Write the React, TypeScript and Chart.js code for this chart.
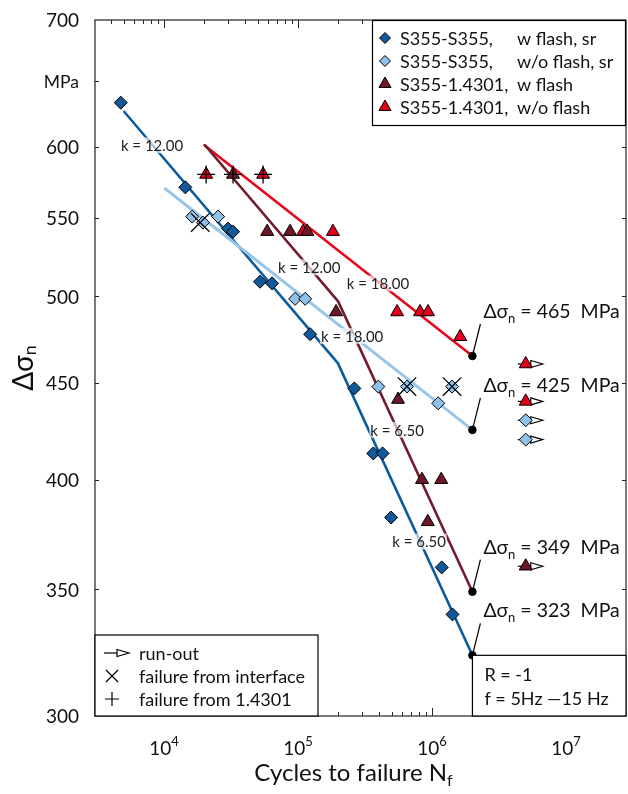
import React, { useEffect, useRef } from 'react';
import { Chart, registerables } from 'chart.js';
Chart.register(...registerables);

const FONT = 'Lato, "DejaVu Sans", sans-serif';

// axes
const xMin = 3050;
const xMax = 28000000;
const yMin = 300;
const yMax = 700;
const yTickValues = [300, 350, 400, 450, 500, 550, 600, 650, 700];
const yTickLabels = ['300', '350', '400', '450', '500', '550', '600', 'MPa', '700'];
const xTickValues = [1e4, 1e5, 1e6, 1e7];
const xTickExponents = ['4', '5', '6', '7'];

// S355-S355, w flash, sr (dark blue diamonds)
const wFlashSrN = [4750, 14400, 30000, 32700, 52000, 63900, 123000, 263000, 364000, 427000, 494000, 1180000, 1420000];
const wFlashSrS = [633, 571, 543, 541, 509, 508, 477.5, 447, 413, 413, 382, 359.5, 339.5];
// S355-S355, w/o flash, sr (light blue diamonds)
const woFlashSrN = [16200, 19500, 25300, 95000, 113000, 397000, 650000, 1410000, 1110000];
const woFlashSrS = [551, 547, 551, 498.5, 498.5, 448, 448, 448, 439];
// S355-1.4301, w flash (dark red triangles)
const wFlashN = [32700, 58800, 87100, 117000, 192000, 557000, 841000, 1170000, 929000];
const wFlashS = [580, 541, 541, 541, 490.6, 441, 400, 400, 380];
// S355-1.4301, w/o flash (red triangles)
const woFlashN = [20600, 54800, 109000, 182000, 548000, 813000, 933000, 1620000];
const woFlashS = [580, 580, 541, 541, 490.6, 490.6, 490.6, 476];

// run-outs
const runoutWoFlashN = [5e6, 5e6];
const runoutWoFlashS = [460.5, 440];
const runoutWoFlashSrN = [5e6, 5e6];
const runoutWoFlashSrS = [430, 420];
const runoutWFlashN = [5e6];
const runoutWFlashS = [360];

// failure modes
const plusN = [20600, 32700, 54800];
const plusS = [580, 580, 580];
const interfaceN = [18600, 650000, 1410000];
const interfaceS = [547, 448, 448];

// S-N curves
const curveWFlashSrN = [5040, 198000, 2000000];
const curveWFlashSrS = [626, 461, 323];
const curveWoFlashSrN = [10200, 2000000];
const curveWoFlashSrS = [570, 425];
const curveWFlashN = [20200, 199000, 2000000];
const curveWFlashS = [601, 497, 349];
const curveWoFlashN = [20000, 2000000];
const curveWoFlashS = [601, 465];

// endpoints (2e6 cycles)
const endN = [2000000, 2000000, 2000000, 2000000];
const endS = [465, 425, 349, 323];
const endLabels = ['465', '425', '349', '323'];

// slope labels
const kLabelText = ['k = 12.00', 'k = 12.00', 'k = 18.00', 'k = 18.00', 'k = 6.50', 'k = 6.50'];
const kLabelN = [8130, 121000, 395000, 253000, 548000, 800000];
const kLabelS = [601, 518, 508, 476.5, 425, 371];

// legend
const legendSeries = ['S355-S355,', 'S355-S355,', 'S355-1.4301,', 'S355-1.4301,'];
const legendDetails = ['w flash, sr', 'w/o flash, sr', 'w flash', 'w/o flash'];
const legendSymbols = ['run-out', 'failure from interface', 'failure from 1.4301'];
const infoLines = ['R = -1', 'f = 5Hz \u201415 Hz'];

const C_DB = '#11599a';
const C_LB = '#8fc1e9';
const C_DR = '#6d1828';
const C_R = '#e3001b';
const L_DB = '#0b5c9e';
const L_LB = '#98c6ea';
const L_DR = '#731c2d';
const L_R = '#e4071c';

type Run = [string, number, number];

function measureRuns(ctx: CanvasRenderingContext2D, runs: Run[]) {
  let w = 0;
  for (const [t, s] of runs) {
    ctx.font = `${s}px ${FONT}`;
    w += ctx.measureText(t).width;
  }
  return w;
}
function drawRuns(ctx: CanvasRenderingContext2D, runs: Run[], x: number, y: number) {
  let cx = x;
  for (const [t, s, dy] of runs) {
    ctx.font = `${s}px ${FONT}`;
    ctx.fillText(t, cx, y + dy);
    cx += ctx.measureText(t).width;
  }
}
function markerPath(ctx: CanvasRenderingContext2D, style: string, x: number, y: number, r: number) {
  ctx.beginPath();
  if (style === 'diamond') {
    ctx.moveTo(x, y - r);
    ctx.lineTo(x + r, y);
    ctx.lineTo(x, y + r);
    ctx.lineTo(x - r, y);
  } else {
    ctx.moveTo(x, y - r);
    ctx.lineTo(x + r * 0.866, y + r * 0.5);
    ctx.lineTo(x - r * 0.866, y + r * 0.5);
  }
  ctx.closePath();
}

const framePlugin = {
  id: 'frameTicks',
  beforeDatasetsDraw(chart: any) {
    const { ctx, chartArea: a } = chart;
    const xs = chart.scales.x;
    const ys = chart.scales.y;
    ctx.save();
    ctx.strokeStyle = '#222';
    ctx.lineWidth = 1.2;
    ctx.strokeRect(a.left, a.top, a.right - a.left, a.bottom - a.top);
    ctx.lineWidth = 1;
    ctx.beginPath();
    for (let d = 3; d <= 7; d++) {
      for (let m = 1; m <= 9; m++) {
        const v = m * Math.pow(10, d);
        if (v <= xMin || v >= xMax) continue;
        const px = Math.round(xs.getPixelForValue(v)) + 0.5;
        const len = m === 1 ? 8 : 4;
        ctx.moveTo(px, a.bottom);
        ctx.lineTo(px, a.bottom - len);
        ctx.moveTo(px, a.top);
        ctx.lineTo(px, a.top + len);
      }
    }
    for (const v of yTickValues) {
      if (v <= yMin || v >= yMax) continue;
      const py = Math.round(ys.getPixelForValue(v)) + 0.5;
      ctx.moveTo(a.left, py);
      ctx.lineTo(a.left + 4, py);
      ctx.moveTo(a.right, py);
      ctx.lineTo(a.right - 4, py);
    }
    ctx.stroke();

    // y tick labels
    ctx.fillStyle = '#111';
    ctx.textAlign = 'right';
    ctx.textBaseline = 'middle';
    yTickValues.forEach((v, i) => {
      const py = ys.getPixelForValue(v);
      ctx.font = `${yTickLabels[i] === 'MPa' ? 17.5 : 19}px ${FONT}`;
      ctx.fillText(yTickLabels[i], a.left - 16, py + 1);
    });
    ctx.textAlign = 'left';

    // run-out arrows
    const arrows = (N: number[], S: number[]) => {
      N.forEach((n, i) => {
        const px = xs.getPixelForValue(n);
        const py = ys.getPixelForValue(S[i]);
        ctx.beginPath();
        ctx.moveTo(px - 8, py);
        ctx.lineTo(px + 5, py);
        ctx.strokeStyle = '#000';
        ctx.lineWidth = 1.2;
        ctx.stroke();
        ctx.beginPath();
        ctx.moveTo(px + 5, py - 3.5);
        ctx.lineTo(px + 17, py);
        ctx.lineTo(px + 5, py + 3.5);
        ctx.closePath();
        ctx.fillStyle = '#fff';
        ctx.fill();
        ctx.stroke();
      });
    };
    arrows(runoutWoFlashN, runoutWoFlashS);
    arrows(runoutWoFlashSrN, runoutWoFlashSrS);
    arrows(runoutWFlashN, runoutWFlashS);
    ctx.restore();
  },
};

const overlayPlugin = {
  id: 'overlay',
  afterDatasetsDraw(chart: any) {
    const { ctx, chartArea: a } = chart;
    const xs = chart.scales.x;
    const ys = chart.scales.y;
    ctx.save();
    ctx.textBaseline = 'alphabetic';
    ctx.fillStyle = '#111';

    // k labels
    kLabelText.forEach((t, i) => {
      const px = xs.getPixelForValue(kLabelN[i]);
      const py = ys.getPixelForValue(kLabelS[i]);
      ctx.font = `15px ${FONT}`;
      const w = ctx.measureText(t).width;
      ctx.fillStyle = 'rgba(255,255,255,0.65)';
      ctx.fillRect(px - w / 2 - 1, py - 8, w + 2, 16);
      ctx.fillStyle = '#222';
      ctx.textAlign = 'center';
      ctx.textBaseline = 'middle';
      ctx.fillText(t, px, py + 1);
    });
    ctx.textAlign = 'left';
    ctx.textBaseline = 'alphabetic';

    // endpoint annotations
    endN.forEach((n, i) => {
      const px = xs.getPixelForValue(n);
      const py = ys.getPixelForValue(endS[i]);
      ctx.strokeStyle = '#000';
      ctx.lineWidth = 1.2;
      ctx.beginPath();
      ctx.moveTo(px, py);
      ctx.lineTo(px + 8, py - 32);
      ctx.stroke();
      ctx.fillStyle = '#111';
      drawRuns(ctx, [['\u0394\u03c3', 19.5, 0], ['n', 13, 5], [' = ' + endLabels[i] + '  MPa', 19.5, 0]], px + 11, py - 38);
    });

    // top-right legend
    const lx = 372;
    const ly = a.top;
    const lw = a.right - lx;
    const lh = 106;
    ctx.fillStyle = '#fff';
    ctx.fillRect(lx, ly, lw, lh);
    ctx.strokeStyle = '#000';
    ctx.lineWidth = 1.2;
    ctx.strokeRect(lx + 0.5, ly + 0.5, lw - 1, lh - 1);
    const styles = ['diamond', 'diamond', 'triangle', 'triangle'];
    const fills = [C_DB, C_LB, C_DR, C_R];
    legendSeries.forEach((t, i) => {
      const y = ly + 18 + i * 23;
      markerPath(ctx, styles[i], lx + 13, y, styles[i] === 'diamond' ? 5.5 : 7);
      ctx.fillStyle = fills[i];
      ctx.fill();
      ctx.lineWidth = 1;
      ctx.strokeStyle = '#000';
      ctx.stroke();
      ctx.fillStyle = '#111';
      ctx.font = `18px ${FONT}`;
      ctx.textBaseline = 'middle';
      ctx.fillText(t, lx + 28, y + 1);
      ctx.fillText(legendDetails[i], lx + 145, y + 1);
    });

    // bottom-left legend
    const bx = a.left;
    const by = 635;
    const bw = 318 - a.left;
    const bh = a.bottom - by;
    ctx.fillStyle = '#fff';
    ctx.fillRect(bx, by, bw, bh);
    ctx.strokeStyle = '#000';
    ctx.lineWidth = 1.2;
    ctx.strokeRect(bx, by, bw, bh);
    legendSymbols.forEach((t, i) => {
      const y = by + 18 + i * 23;
      const sx = bx + 17;
      ctx.strokeStyle = '#000';
      ctx.lineWidth = 1.2;
      if (i === 0) {
        ctx.beginPath();
        ctx.moveTo(sx - 8, y);
        ctx.lineTo(sx + 5, y);
        ctx.stroke();
        ctx.beginPath();
        ctx.moveTo(sx + 5, y - 3.5);
        ctx.lineTo(sx + 17, y);
        ctx.lineTo(sx + 5, y + 3.5);
        ctx.closePath();
        ctx.fillStyle = '#fff';
        ctx.fill();
        ctx.stroke();
      } else if (i === 1) {
        ctx.beginPath();
        ctx.moveTo(sx - 6, y - 6);
        ctx.lineTo(sx + 6, y + 6);
        ctx.moveTo(sx + 6, y - 6);
        ctx.lineTo(sx - 6, y + 6);
        ctx.stroke();
      } else {
        ctx.beginPath();
        ctx.moveTo(sx - 7, y);
        ctx.lineTo(sx + 7, y);
        ctx.moveTo(sx, y - 7);
        ctx.lineTo(sx, y + 7);
        ctx.stroke();
      }
      ctx.fillStyle = '#111';
      ctx.font = `18px ${FONT}`;
      ctx.textBaseline = 'middle';
      ctx.fillText(t, bx + 44, y + 1);
    });

    // info box
    const ix = xs.getPixelForValue(2000000);
    const iy = ys.getPixelForValue(323);
    ctx.fillStyle = '#fff';
    ctx.fillRect(ix, iy, a.right - ix, a.bottom - iy);
    ctx.strokeStyle = '#000';
    ctx.lineWidth = 1.2;
    ctx.strokeRect(ix, iy, a.right - ix, a.bottom - iy);
    ctx.fillStyle = '#111';
    ctx.font = `18px ${FONT}`;
    ctx.textBaseline = 'alphabetic';
    infoLines.forEach((t, i) => {
      ctx.fillText(t, ix + 12, iy + 26 + i * 24);
    });

    // x tick labels
    xTickValues.forEach((v, i) => {
      const px = xs.getPixelForValue(v);
      const runs: Run[] = [['10', 19, 0], [xTickExponents[i], 13, -9]];
      const w = measureRuns(ctx, runs);
      ctx.fillStyle = '#111';
      drawRuns(ctx, runs, px - w / 2, 755);
    });

    // x title
    const xt: Run[] = [['Cycles to failure N', 24, 0], ['f', 16, 5]];
    const xw = measureRuns(ctx, xt);
    drawRuns(ctx, xt, (a.left + a.right) / 2 - 7 - xw / 2, 781);

    // y title
    ctx.save();
    ctx.translate(33, 368);
    ctx.rotate(-Math.PI / 2);
    const yt: Run[] = [['\u0394\u03c3', 28, 0], ['n', 18, 3]];
    const yw = measureRuns(ctx, yt);
    drawRuns(ctx, yt, -yw / 2, 0);
    ctx.restore();

    ctx.restore();
  },
};

export default function App() {
  const ref = useRef<HTMLCanvasElement>(null);
  useEffect(() => {
    document.documentElement.style.overflow = 'hidden';
    document.body.style.margin = '0';
    const canvas = ref.current!;
    const pts = (N: number[], S: number[]) => N.map((n, i) => ({ x: n, y: S[i] }));
    const line = (N: number[], S: number[], color: string, w: number) => ({
      data: pts(N, S),
      showLine: true,
      borderColor: color,
      borderWidth: w,
      pointRadius: 0,
      fill: false,
      borderCapStyle: 'round',
      borderJoinStyle: 'round',
      order: 10,
    });
    const marks = (N: number[], S: number[], style: string, fill: string, r: number) => ({
      data: pts(N, S),
      showLine: false,
      pointStyle: style,
      pointRadius: r,
      backgroundColor: fill,
      borderColor: '#000',
      borderWidth: 1,
      order: 2,
    });
    const chart = new Chart(canvas, {
      type: 'scatter',
      data: {
        datasets: [
          line(curveWoFlashSrN, curveWoFlashSrS, L_LB, 3),
          line(curveWFlashSrN, curveWFlashSrS, L_DB, 2.6),
          line(curveWFlashN, curveWFlashS, L_DR, 2.6),
          line(curveWoFlashN, curveWoFlashS, L_R, 2.6),
          marks(wFlashSrN, wFlashSrS, 'rectRot', C_DB, 6.5),
          marks(woFlashSrN, woFlashSrS, 'rectRot', C_LB, 6.5),
          marks(wFlashN, wFlashS, 'triangle', C_DR, 7.5),
          marks(woFlashN, woFlashS, 'triangle', C_R, 7.5),
          marks(runoutWoFlashN, runoutWoFlashS, 'triangle', C_R, 7.5),
          marks(runoutWoFlashSrN, runoutWoFlashSrS, 'rectRot', C_LB, 6.5),
          marks(runoutWFlashN, runoutWFlashS, 'triangle', C_DR, 7.5),
          { ...marks(plusN, plusS, 'cross', '#000', 9), borderWidth: 1.3, order: 1 },
          { ...marks(interfaceN, interfaceS, 'crossRot', '#000', 13), borderWidth: 1.3, order: 1 },
          { ...marks(endN, endS, 'circle', '#000', 3.8), order: 0 },
        ] as any,
      },
      options: {
        responsive: false,
        devicePixelRatio: 1,
        animation: false,
        layout: { autoPadding: false, padding: { top: 20, right: 2, bottom: 78, left: 95 } },
        plugins: { legend: { display: false }, tooltip: { enabled: false } },
        scales: {
          x: { type: 'logarithmic', min: xMin, max: xMax, display: false },
          y: { type: 'logarithmic', min: yMin, max: yMax, display: false },
        },
      } as any,
      plugins: [framePlugin, overlayPlugin],
    });
    return () => chart.destroy();
  }, []);
  return (
    <div style={{ position: 'fixed', left: 0, top: 0, width: 628, height: 794, background: '#fff', overflow: 'hidden' }}>
      <canvas ref={ref} width={628} height={794} style={{ display: 'block', width: 628, height: 794 }} />
    </div>
  );
}
